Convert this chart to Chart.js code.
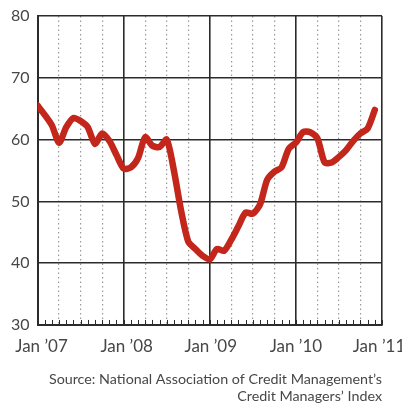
<!DOCTYPE html>
<html>
<head>
<meta charset="utf-8">
<script src="https://cdn.jsdelivr.net/npm/chart.js@4/dist/chart.umd.min.js"></script>
<style>
  html, body { margin: 0; padding: 0; background: #fff; overflow: hidden; }
  #wrap { position: relative; width: 402px; height: 405px; }
</style>
</head>
<body>
<div id="wrap">
  <canvas id="cmiChart" width="402" height="405"></canvas>
</div>
<script>
// monthly index, Jan '07 .. Dec '10
const values2007 = [65.5, 64, 62.3, 59.5, 62, 63.5, 63, 62, 59.3, 61, 59.8, 57.5];
const values2008 = [55.3, 55.5, 57, 60.4, 59, 58.8, 60, 55, 48.5, 43.5, 42.3, 41.2];
const values2009 = [40.6, 42.3, 42, 43.8, 46, 48.2, 48, 49.5, 53.5, 54.8, 55.5, 58.5];
const values2010 = [59.5, 61.2, 61.2, 60.2, 56.3, 56.3, 57.2, 58.3, 59.8, 61, 61.8, 64.8];
const yearLabels = ['Jan \u201907', 'Jan \u201908', 'Jan \u201909', 'Jan \u201910', 'Jan \u201911'];
const yTicks = [30, 40, 50, 60, 70, 80];
const sourceLines = ['Source: National Association of Credit Management\u2019s', 'Credit Managers\u2019 Index'];

const allValues = [].concat(values2007, values2008, values2009, values2010);
const points = allValues.map((v, i) => ({ x: i, y: v }));

const gridDark = '#2b2b2b';
const labelColor = '#474747';
const labelShift = [4, 3, 1, 0, -3];

// monthly tick marks inside the plot + year labels (drawn here so the
// end labels can hang over the edges like in the print version)
const monthTicks = {
    id: 'monthTicks',
    afterDatasetsDraw(chart) {
        const xs = chart.scales.x;
        const area = chart.chartArea;
        const c = chart.ctx;
        c.save();
        c.strokeStyle = gridDark;
        c.lineWidth = 1;
        for (let m = 0; m <= 48; m++) {
            const x = Math.round(xs.getPixelForValue(m)) + 0.5;
            c.beginPath();
            c.moveTo(x, area.bottom);
            c.lineTo(x, area.bottom - 5);
            c.stroke();
        }
        c.fillStyle = labelColor;
        c.font = '17px Lato';
        c.textAlign = 'center';
        c.textBaseline = 'middle';
        yearLabels.forEach((lbl, i) => {
            c.fillText(lbl, xs.getPixelForValue(i * 12) + labelShift[i], area.bottom + 22);
        });
        c.restore();
    }
};

const ctx = document.getElementById('cmiChart').getContext('2d');

const cmiChart = new Chart(ctx, {
    type: 'line',
    data: {
        datasets: [{
            data: points,
            borderColor: '#c3261b',
            borderWidth: 6.5,
            borderCapStyle: 'round',
            borderJoinStyle: 'round',
            pointRadius: 0,
            tension: 0.25,
            fill: false
        }]
    },
    options: {
        responsive: false,
        animation: false,
        layout: {
            padding: { left: 3, right: 20, top: 2, bottom: 0 }
        },
        plugins: {
            legend: { display: false },
            tooltip: { enabled: false },
            title: {
                display: true,
                position: 'bottom',
                align: 'end',
                text: sourceLines,
                color: labelColor,
                font: { family: 'Lato', size: 14.3, weight: 'normal', lineHeight: 1.19 },
                padding: { top: 46, bottom: 0 }
            }
        },
        scales: {
            x: {
                type: 'linear',
                min: 0,
                max: 48,
                ticks: {
                    stepSize: 1,
                    autoSkip: false,
                    display: false
                },
                grid: {
                    drawTicks: false,
                    lineWidth: (c) => c.tick && c.tick.value % 12 === 0 ? 1.6 : 1.2,
                    color: (c) => {
                        const v = c.tick ? c.tick.value : 0;
                        if (v % 12 === 0) return gridDark;
                        if (v % 3 === 0) return '#9a9a9a';
                        return 'rgba(0,0,0,0)';
                    }
                },
                border: {
                    color: gridDark,
                    width: 2,
                    dash: (c) => c.tick && c.tick.value % 12 !== 0 ? [1.5, 3] : []
                }
            },
            y: {
                min: 30,
                max: 80,
                afterBuildTicks: (axis) => { axis.ticks = yTicks.map(v => ({ value: v })); },
                ticks: {
                    color: labelColor,
                    font: { family: 'Lato', size: 16, lineHeight: 1 },
                    padding: 8
                },
                grid: {
                    drawTicks: false,
                    color: gridDark,
                    lineWidth: 1.6
                },
                border: { color: gridDark, width: 2 }
            }
        }
    },
    plugins: [monthTicks]
});
</script>
</body>
</html>
